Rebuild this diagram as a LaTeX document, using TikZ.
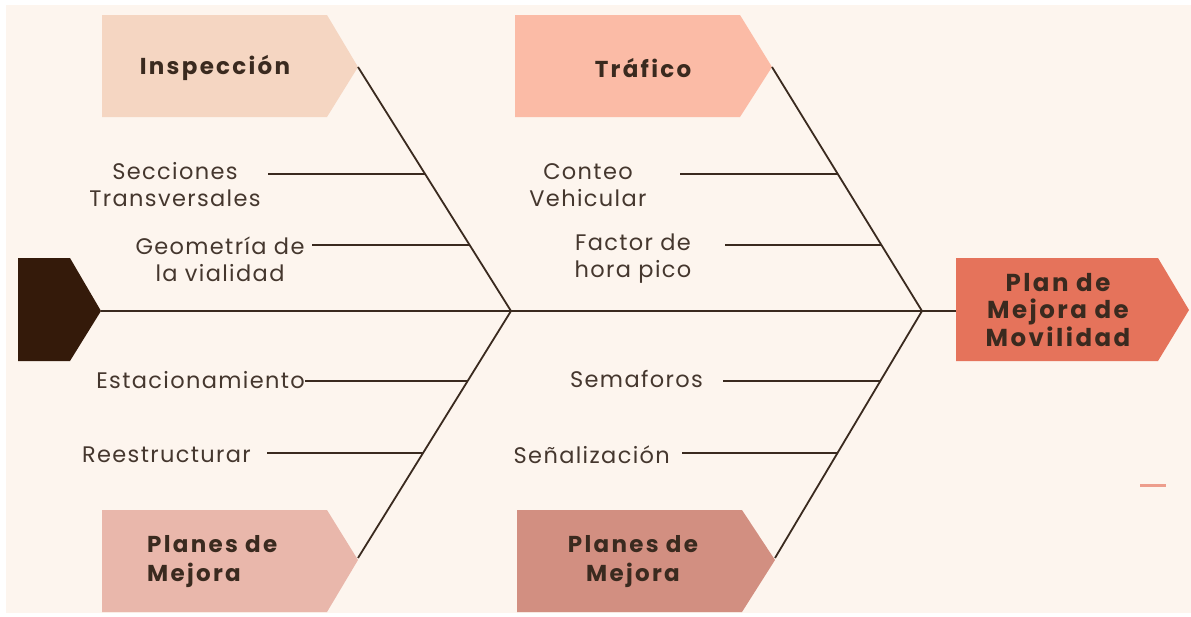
\documentclass[tikz,border=0pt]{standalone}
\usepackage{fontspec}
\setmainfont{Poppins}
\definecolor{bg}{HTML}{FDF5EE}
\definecolor{ink}{HTML}{3A2A1F}
\definecolor{txt}{HTML}{45372E}
\definecolor{insp}{HTML}{F5D6C2}
\definecolor{traf}{HTML}{FBBBA6}
\definecolor{plan}{HTML}{E5735B}
\definecolor{head}{HTML}{341A0A}
\definecolor{mejA}{HTML}{E9B7AB}
\definecolor{mejB}{HTML}{D28F81}
\newfontfamily\lblfont[LetterSpace=6]{Poppins}
\newfontfamily\ttlfont[LetterSpace=10]{Poppins}
\tikzset{
  bone/.style={draw=ink, line width=1.8pt},
  lbl/.style={text=txt, font=\lblfont\fontsize{22.5}{27}\selectfont, align=center, inner sep=0pt},
  ttl/.style={text=ink, font=\ttlfont\bfseries\fontsize{23}{28}\selectfont, inner sep=0pt},
}
\begin{document}
\begin{tikzpicture}[x=1pt,y=-1pt]
\useasboundingbox (0,0) rectangle (1191,616);
\fill[white] (0,0) rectangle (1191,616);
\fill[bg] (6,5) rectangle (1191,613);
% shapes
\fill[insp] (102,15) -- (327,15) -- (358,67) -- (327,117) -- (102,117) -- cycle;
\fill[traf] (515,15) -- (740,15) -- (772,67) -- (740,117) -- (515,117) -- cycle;
\fill[plan] (956,258) -- (1158,258) -- (1189,310) -- (1158,361) -- (956,361) -- cycle;
\fill[head] (18,258) -- (70,258) -- (101,311) -- (70,361) -- (18,361) -- cycle;
\fill[mejA] (102,510) -- (327,510) -- (358,560) -- (327,612) -- (102,612) -- cycle;
\fill[mejB] (517,510) -- (742,510) -- (775,560) -- (742,612) -- (517,612) -- cycle;
\fill[plan!70] (1140,484) rectangle (1166,487);
% key points
\coordinate (headtip) at (101,311);
\coordinate (inspTip) at (358,67);
\coordinate (trafTip) at (772,67);
\coordinate (mejATip) at (358,558);
\coordinate (mejBTip) at (775,558);
\coordinate (jL) at (511,311);
\coordinate (jR) at (922,311);
\coordinate (planL) at (956,311);
% titles
\node[ttl] (tInsp) at (215,68) {Inspección};
\node[ttl] (tTraf) at (643,68) {Tráfico};
\node[ttl, align=center, font=\ttlfont\bfseries\fontsize{24.5}{27.5}\selectfont] (tPlan) at (1058,310) {Plan de\\Mejora de\\Movilidad};
\node[ttl, align=left, anchor=west, font=\ttlfont\bfseries\fontsize{23}{29}\selectfont] (tMejA) at (147,562) {Planes de\\Mejora};
\node[ttl, align=center, font=\ttlfont\bfseries\fontsize{23}{29}\selectfont] (tMejB) at (633,562) {Planes de\\Mejora};
% spine and bones
\draw[bone] (headtip) -- (planL);
\draw[bone] (inspTip) -- (jL) -- (mejATip);
\draw[bone] (trafTip) -- (jR) -- (mejBTip);
% labels
\node[lbl] (sec) at (175,185) {Secciones\\Transversales};
\node[lbl] (geo) at (220,259) {Geometría de\\la vialidad};
\node[lbl, anchor=east] (est) at (305,380) {Estacionamiento};
\node[lbl, anchor=east] (ree) at (251,455) {Reestructurar};
\node[lbl, anchor=east] (sem) at (703,379) {Semaforos};
\node[lbl] (con) at (588,185) {Conteo\\Vehicular};
\node[lbl] (fac) at (633,259) {Factor de\\hora pico};
\node[lbl, anchor=east] (sen) at (670,455) {Señalización};
% rib ends
\coordinate (sSec) at (268,174);
\coordinate (sGeo) at (312,245);
\coordinate (sEst) at (305,381);
\coordinate (sRee) at (267,453);
\coordinate (sCon) at (680,174);
\coordinate (sFac) at (725,245);
\coordinate (sSem) at (723,381);
\coordinate (sSen) at (682,453);
\coordinate (rSec) at (425,174);
\coordinate (rGeo) at (470,245);
\coordinate (rEst) at (467,381);
\coordinate (rRee) at (423,453);
\coordinate (rCon) at (838,174);
\coordinate (rFac) at (881,245);
\coordinate (rSem) at (880,381);
\coordinate (rSen) at (837,453);
\draw[bone] (sSec) -- (rSec);
\draw[bone] (sGeo) -- (rGeo);
\draw[bone] (sEst) -- (rEst);
\draw[bone] (sRee) -- (rRee);
\draw[bone] (sCon) -- (rCon);
\draw[bone] (sFac) -- (rFac);
\draw[bone] (sSem) -- (rSem);
\draw[bone] (sSen) -- (rSen);
\end{tikzpicture}
\end{document}
